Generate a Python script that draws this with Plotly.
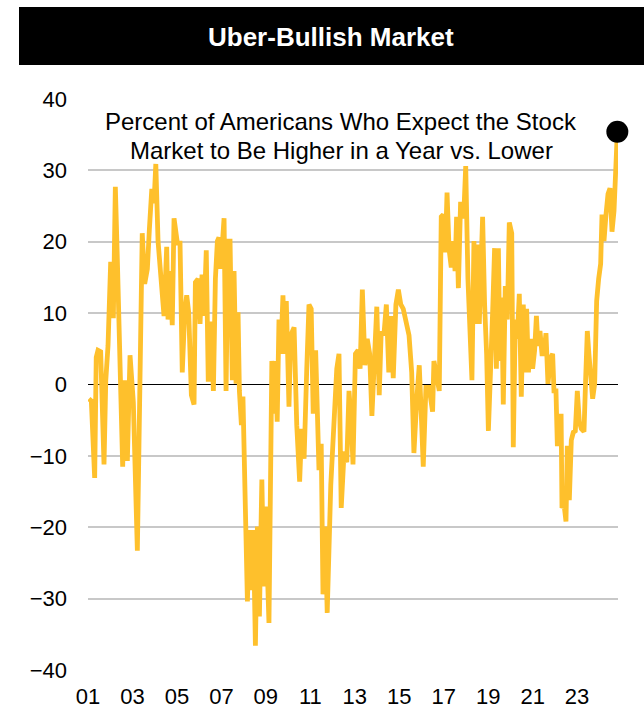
import plotly.graph_objects as go

# Decimal-year position and value (percent expecting higher minus lower)
years = [
    2001.04, 2001.15, 2001.30, 2001.37, 2001.45, 2001.57, 2001.72, 2001.80, 2001.90, 2002.02,
    2002.14, 2002.23, 2002.32, 2002.44, 2002.56, 2002.65, 2002.77, 2002.89, 2003.04, 2003.22,
    2003.34, 2003.44, 2003.55, 2003.67, 2003.76, 2003.87, 2003.97, 2004.05, 2004.15, 2004.30,
    2004.42, 2004.54, 2004.60, 2004.69, 2004.79, 2004.87, 2005.02, 2005.14, 2005.24, 2005.35,
    2005.44, 2005.53, 2005.65, 2005.77, 2005.83, 2005.95, 2006.04, 2006.13, 2006.22, 2006.32,
    2006.41, 2006.52, 2006.64, 2006.73, 2006.82, 2006.89, 2006.97, 2007.12, 2007.21, 2007.30,
    2007.39, 2007.49, 2007.57, 2007.66, 2007.75, 2007.81, 2007.90, 2007.97, 2008.06, 2008.17,
    2008.26, 2008.35, 2008.44, 2008.53, 2008.62, 2008.71, 2008.82, 2008.91, 2008.98, 2009.14,
    2009.27, 2009.37, 2009.44, 2009.51, 2009.59, 2009.67, 2009.77, 2009.85, 2009.92, 2010.04,
    2010.12, 2010.27, 2010.39, 2010.52, 2010.61, 2010.72, 2010.84, 2010.94, 2011.04, 2011.13,
    2011.24, 2011.31, 2011.39, 2011.49, 2011.57, 2011.67, 2011.76, 2011.92, 2012.07, 2012.19,
    2012.29, 2012.39, 2012.52, 2012.64, 2012.74, 2012.84, 2012.92, 2013.03, 2013.15, 2013.24,
    2013.34, 2013.46, 2013.56, 2013.67, 2013.77, 2013.86, 2013.99, 2014.10, 2014.19, 2014.31,
    2014.42, 2014.53, 2014.62, 2014.73, 2014.85, 2014.96, 2015.07, 2015.18, 2015.29, 2015.44,
    2015.56, 2015.66, 2015.79, 2015.90, 2015.99, 2016.08, 2016.20, 2016.34, 2016.50, 2016.56,
    2016.68, 2016.80, 2016.89, 2016.98, 2017.07, 2017.15, 2017.24, 2017.34, 2017.43, 2017.51,
    2017.58, 2017.66, 2017.76, 2017.84, 2017.91, 2017.99, 2018.09, 2018.18, 2018.27, 2018.36,
    2018.44, 2018.51, 2018.60, 2018.69, 2018.75, 2018.84, 2018.93, 2019.01, 2019.11, 2019.20,
    2019.29, 2019.37, 2019.46, 2019.53, 2019.61, 2019.68, 2019.77, 2019.86, 2019.95, 2020.06,
    2020.13, 2020.22, 2020.31, 2020.40, 2020.49, 2020.58, 2020.66, 2020.73, 2020.81, 2020.91,
    2021.00, 2021.09, 2021.17, 2021.24, 2021.33, 2021.42, 2021.51, 2021.60, 2021.69, 2021.81,
    2021.90, 2021.96, 2022.05, 2022.11, 2022.20, 2022.28, 2022.32, 2022.41, 2022.50, 2022.56,
    2022.65, 2022.74, 2022.83, 2022.92, 2023.01, 2023.10, 2023.19, 2023.31, 2023.39, 2023.46,
    2023.53, 2023.61, 2023.70, 2023.79, 2023.88, 2023.97, 2024.06, 2024.12, 2024.21, 2024.30,
    2024.39, 2024.48, 2024.57, 2024.66, 2024.75, 2024.81,
]
values = [
    -2.0, -2.3, -13.1, 3.8, 4.8, 4.6, -11.2, 0.6, 5.4, 17.2,
    9.3, 27.7, 17.5, 0.1, -11.5, 0.6, -10.7, 4.1, -2.5, -23.3,
    -0.9, 21.2, 14.1, 16.2, 21.7, 27.4, 25.4, 30.9, 20.1, 14.3,
    9.6, 19.3, 9.1, 15.9, 8.3, 23.3, 19.8, 19.8, 1.7, 10.1,
    12.5, 10.1, -1.5, -2.8, 14.3, 14.8, 8.5, 15.4, 9.6, 18.8,
    0.4, 8.8, -0.9, 14.8, 20.1, 20.6, 16.2, 23.3, -0.9, 20.1,
    20.1, 0.6, 15.9, 0.1, 10.1, -0.9, -5.7, -1.7, -14.1, -30.4,
    -20.4, -28.8, -20.4, -36.6, -19.9, -32.5, -13.3, -28.3, -17.1, -33.4,
    3.3, -4.1, 3.3, -5.2, 9.1, 4.3, 12.5, 4.3, 11.7, -3.1,
    6.9, 8.0, -5.7, -13.6, -6.2, -10.4, 2.2, 11.2, 10.6, -4.1,
    4.8, -4.1, -12.0, -8.3, -29.4, -19.9, -32.0, -14.1, -3.1, 2.2,
    4.3, -17.3, -9.4, -10.9, -0.9, -5.2, -11.2, 4.3, 4.8, 2.2,
    13.3, 2.7, 6.4, 4.3, -4.4, 3.3, 10.9, -1.5, 7.5, 6.9,
    11.2, 1.7, 9.6, 0.9, 11.2, 13.3, 11.2, 10.6, 9.1, 6.9,
    1.7, -9.6, -2.0, 2.7, -4.1, -11.5, -0.4, -0.4, -3.8, 3.3,
    1.2, -0.9, 23.5, 23.8, 18.5, 26.9, 19.0, 16.4, 20.1, 15.9,
    23.5, 13.5, 25.6, 23.3, 24.3, 30.6, 14.8, 5.9, 0.6, 20.1,
    8.5, 19.6, 8.5, 17.5, 23.5, 11.2, 4.3, -6.5, 5.4, 10.1,
    19.1, 2.2, 19.1, 3.3, 12.2, -2.8, 13.8, 9.1, 22.7, 21.2,
    -8.8, 9.1, 6.4, 12.7, -1.7, 11.2, 1.7, 10.6, 1.7, 6.4,
    2.2, 4.8, 9.6, 5.4, 7.5, 4.3, 4.3, 7.2, 0.1, 3.8,
    4.3, -0.9, -0.9, -8.3, -8.3, -4.1, -17.3, -16.7, -19.2, -8.6,
    -16.2, -7.8, -6.7, -6.5, -0.9, -5.2, -6.2, -6.6, 1.2, 7.5,
    4.3, 1.2, -2.0, 0.1, 11.7, 14.8, 16.9, 23.8, 20.1, 23.8,
    26.7, 27.5, 21.4, 24.3, 33.8, 35.4,
]

tick_years = [2001, 2003, 2005, 2007, 2009, 2011, 2013, 2015, 2017, 2019, 2021, 2023]
tick_text = ["01", "03", "05", "07", "09", "11", "13", "15", "17", "19", "21", "23"]
y_ticks = [40, 30, 20, 10, 0, -10, -20, -30, -40]

title_text = "Uber-Bullish Market"
note_lines = ["Percent of Americans Who Expect the Stock",
              "Market to Be Higher in a Year vs. Lower"]

FONT = "Liberation Sans, Arial, Helvetica, sans-serif"
LINE_COLOR = "#FEC02C"

fig = go.Figure()
fig.add_trace(go.Scatter(
    x=years, y=values, mode="lines",
    line=dict(color=LINE_COLOR, width=4.8),
    hoverinfo="skip", showlegend=False,
))
fig.add_trace(go.Scatter(
    x=[years[-1]], y=[values[-1]], mode="markers",
    marker=dict(color="black", size=22),
    hoverinfo="skip", showlegend=False, cliponaxis=False,
))

# plot area: x 88..618 px, y 99..670 px in a 644x709 figure
annotations = [
    dict(
        text="<b>" + title_text + "</b>", xref="paper", yref="paper",
        x=(331 - 88) / 530, y=(670 - 37) / 571,
        xanchor="center", yanchor="middle", showarrow=False,
        font=dict(family=FONT, size=26, color="white"),
    ),
]
for line, py in zip(note_lines, [121.0, 150.0]):
    annotations.append(dict(
        text=line, xref="paper", yref="paper",
        x=(341 - 88) / 530, y=(670 - py) / 571,
        xanchor="center", yanchor="middle", showarrow=False,
        font=dict(family=FONT, size=24, color="black"),
    ))

fig.update_layout(
    width=644, height=709,
    autosize=False,
    margin=dict(l=88, r=26, t=99, b=39, pad=0, autoexpand=False),
    paper_bgcolor="white", plot_bgcolor="white",
    font=dict(family=FONT, size=22, color="black"),
    xaxis=dict(
        range=[2001.0, 2024.84],
        tickmode="array", tickvals=tick_years, ticktext=tick_text,
        showgrid=False, zeroline=False, showline=False,
        ticks="", ticklabelstandoff=11, automargin=False,
        tickfont=dict(size=22),
    ),
    yaxis=dict(
        range=[-40, 40],
        tickmode="array", tickvals=y_ticks,
        showgrid=True, gridcolor="#C8C8C8", gridwidth=2,
        zeroline=True, zerolinecolor="black", zerolinewidth=1.5,
        showline=False, ticks="", ticklabelstandoff=20, automargin=False,
        tickfont=dict(size=22),
    ),
    shapes=[dict(
        type="rect", xref="paper", yref="paper",
        x0=(19 - 88) / 530, x1=(644 - 88) / 530,
        y0=(670 - 65) / 571, y1=(670 - 7) / 571,
        fillcolor="black", line=dict(width=0), layer="above",
    )],
    annotations=annotations,
)

fig.write_html(
    "out.html",
    config={"displayModeBar": False, "staticPlot": True},
    post_script="document.body.style.margin='0';document.body.style.overflow='hidden';",
)
